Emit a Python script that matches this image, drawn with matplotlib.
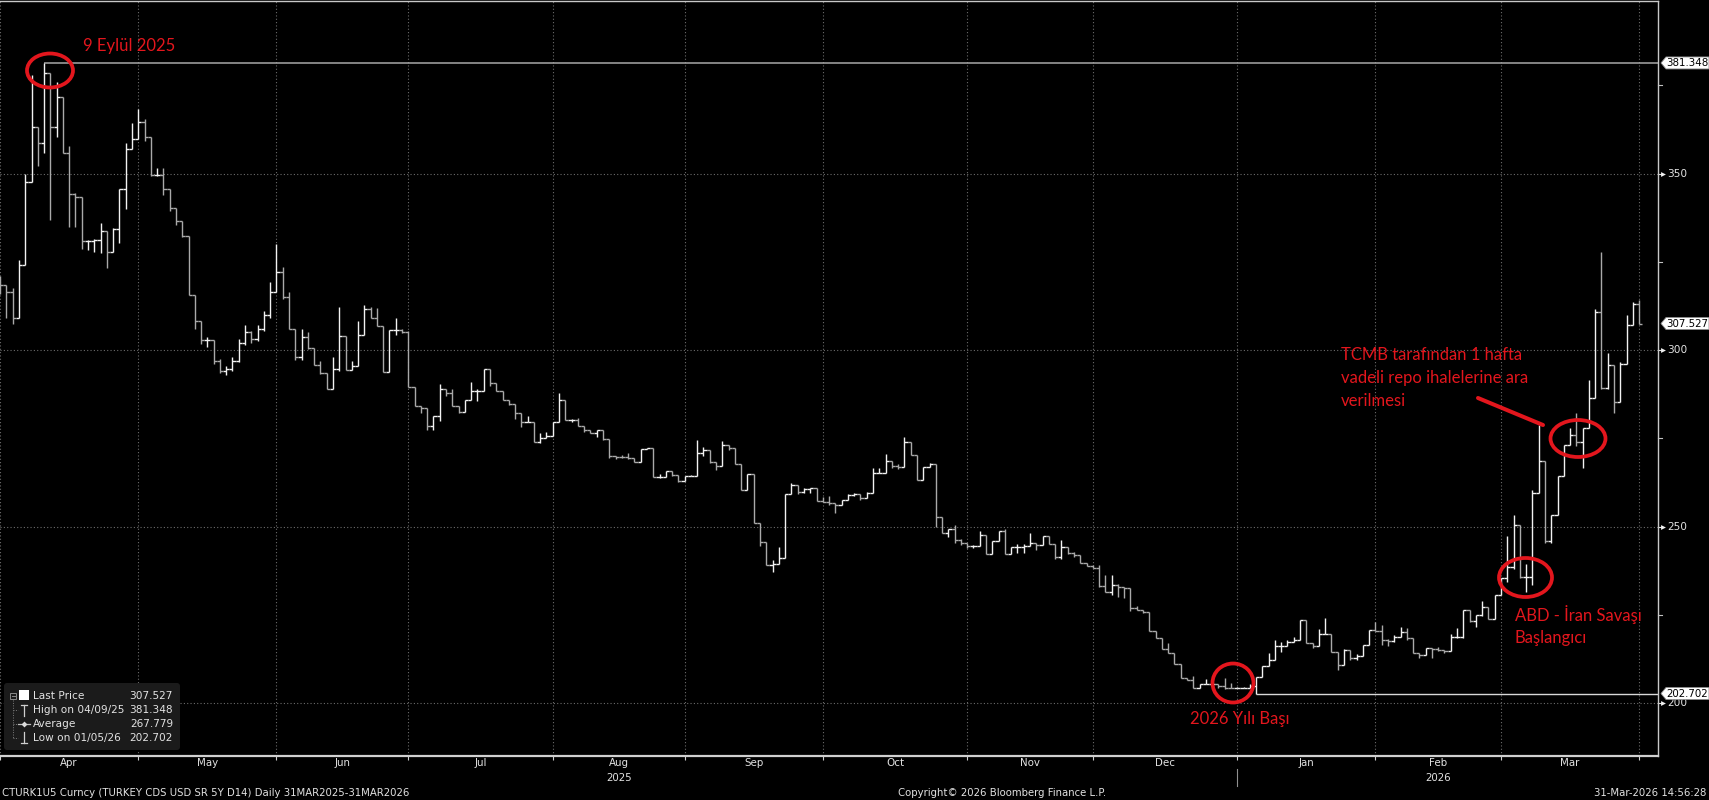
import numpy as np
import pandas as pd
import matplotlib
matplotlib.use('Agg')
import matplotlib.pyplot as plt
from matplotlib.patches import Ellipse, Polygon, FancyBboxPatch, Rectangle
from matplotlib.lines import Line2D
from matplotlib.transforms import Affine2D, blended_transform_factory

# ---------------- data ----------------
dates = pd.bdate_range('2025-03-31', '2026-03-31')

close = [
    318.4, 316.5, 309.0, 324.1, 347.5, 363.1, 358.8, 378.6, 363.1, 371.8,
    355.7, 344.1, 343.4, 330.9, 330.9, 331.2, 333.7, 327.9, 334.2, 345.5,
    357.1, 359.7, 364.7, 360.4, 349.6, 349.6, 345.6, 340.3, 336.5, 332.4,
    315.6, 308.2, 302.8, 302.8, 297.0, 294.0, 294.5, 297.0, 302.0, 305.0,
    303.0, 306.0, 310.0, 316.5, 322.2, 315.1, 305.9, 297.9, 303.8, 300.5,
    295.8, 293.6, 288.9, 294.5, 304.0, 294.3, 295.5, 304.2, 311.5, 309.0,
    306.9, 293.9, 305.7, 305.7, 305.2, 289.6, 284.2, 283.5, 278.5, 281.3,
    288.9, 287.9, 284.1, 282.5, 285.8, 288.4, 288.4, 294.6, 290.7, 288.4,
    285.8, 284.6, 282.1, 279.5, 279.7, 274.0, 275.2, 275.6, 279.7, 285.8,
    280.2, 280.2, 278.5, 277.5, 276.6, 277.3, 274.7, 270.1, 269.8, 269.6,
    269.3, 268.4, 271.9, 272.4, 264.1, 264.1, 265.8, 264.6, 262.9, 264.4,
    264.4, 270.9, 271.7, 268.4, 267.1, 273.1, 272.3, 267.6, 260.3, 264.8,
    250.9, 245.7, 239.1, 239.4, 241.0, 259.1, 261.8, 259.9, 260.6, 260.8,
    257.2, 257.0, 256.6, 256.1, 257.5, 258.9, 259.2, 258.0, 259.6, 265.3,
    265.3, 268.6, 267.1, 266.8, 274.0, 270.3, 263.2, 267.0, 267.6, 252.6,
    248.1, 249.2, 246.2, 245.4, 244.5, 244.5, 247.6, 242.1, 246.0, 248.8,
    242.1, 244.1, 244.1, 244.5, 245.4, 244.8, 247.3, 245.2, 241.5, 244.1,
    242.6, 241.9, 239.6, 238.8, 238.4, 233.1, 231.5, 233.4, 233.0, 232.5,
    226.8, 226.5, 225.9, 220.5, 218.3, 215.2, 214.3, 211.0, 207.0, 206.5,
    204.4, 205.4, 205.4, 205.4, 204.8, 204.3, 204.2, 204.2, 204.2, 204.8,
    207.3, 210.5, 212.2, 216.1, 216.1, 217.4, 217.8, 223.5, 217.1, 216.1,
    219.5, 219.5, 214.5, 210.7, 215.0, 212.8, 213.3, 216.4, 220.7, 220.5,
    217.8, 217.6, 218.8, 220.2, 218.3, 214.1, 213.6, 215.5, 215.2, 215.0,
    214.8, 218.6, 218.6, 226.3, 223.3, 224.9, 227.1, 223.7, 230.6, 235.3,
    238.6, 250.4, 235.8, 235.8, 259.4, 268.6, 245.9, 253.4, 264.3, 273.2,
    276.0, 274.0, 277.8, 286.3, 310.9, 289.4, 295.7, 285.3, 296.1, 307.2,
    313.1, 307.527]

high = [
    321.0, 318.4, 317.5, 325.5, 350.0, 378.0, 363.1, 381.348, 378.6, 376.0,
    371.8, 357.8, 344.4, 343.4, 331.2, 331.5, 335.9, 333.7, 334.7, 345.5,
    358.7, 364.2, 368.2, 365.6, 360.4, 351.5, 351.5, 345.6, 340.3, 336.5,
    332.4, 315.6, 308.2, 303.8, 302.8, 297.5, 295.5, 298.0, 303.0, 307.0,
    305.5, 307.0, 311.0, 319.4, 330.0, 323.6, 316.5, 305.9, 306.1, 305.0,
    300.5, 297.0, 293.6, 298.1, 312.3, 304.0, 297.0, 308.3, 312.7, 312.2,
    312.0, 306.9, 305.7, 309.0, 305.9, 305.4, 289.6, 284.2, 283.5, 281.3,
    290.3, 288.9, 288.9, 284.1, 285.8, 291.0, 289.1, 294.6, 294.6, 290.7,
    288.4, 285.8, 284.6, 282.1, 281.3, 279.7, 276.6, 276.9, 279.7, 287.9,
    285.8, 280.6, 280.8, 278.5, 277.5, 277.5, 277.3, 274.7, 270.1, 270.4,
    270.8, 269.3, 271.9, 272.4, 272.4, 264.8, 265.8, 265.8, 264.6, 264.4,
    264.6, 274.5, 272.5, 271.7, 268.4, 274.3, 273.1, 272.3, 267.6, 264.8,
    264.8, 250.9, 245.7, 240.6, 244.2, 259.1, 262.4, 261.8, 260.9, 261.0,
    260.8, 258.5, 258.7, 256.6, 257.5, 259.2, 259.6, 259.2, 259.9, 266.5,
    266.5, 270.7, 268.6, 267.7, 275.3, 274.0, 270.3, 267.0, 268.0, 267.6,
    252.6, 249.3, 250.4, 246.6, 245.4, 244.8, 248.8, 247.6, 246.0, 248.8,
    249.2, 244.1, 245.0, 245.0, 248.3, 245.4, 247.3, 247.3, 245.2, 246.2,
    244.1, 242.9, 241.9, 239.6, 239.0, 239.1, 236.3, 236.3, 233.6, 233.0,
    232.5, 227.4, 226.5, 225.9, 220.5, 218.3, 216.9, 214.3, 211.0, 207.0,
    207.6, 205.4, 206.7, 205.9, 205.4, 207.0, 205.6, 204.6, 204.6, 205.4,
    207.3, 210.5, 214.3, 217.8, 217.4, 217.8, 218.6, 223.5, 223.5, 217.1,
    221.1, 224.0, 219.5, 214.5, 215.2, 215.0, 213.8, 216.4, 220.7, 223.0,
    222.0, 218.2, 219.2, 221.6, 221.3, 218.3, 214.1, 215.5, 215.5, 215.9,
    215.0, 219.7, 221.2, 226.3, 226.3, 224.9, 229.0, 227.1, 230.6, 235.3,
    247.3, 253.3, 250.4, 239.5, 260.3, 278.8, 264.1, 253.4, 264.3, 273.2,
    277.8, 282.1, 277.8, 291.5, 311.5, 327.9, 299.1, 295.7, 296.6, 309.9,
    313.7, 314.2]

low = [
    316.0, 309.0, 307.5, 309.0, 324.1, 347.5, 352.1, 355.7, 336.8, 360.4,
    355.7, 334.9, 334.9, 328.5, 328.3, 327.9, 327.6, 323.3, 327.9, 330.2,
    340.1, 357.1, 359.7, 359.2, 349.2, 349.2, 343.8, 339.5, 335.4, 332.0,
    315.6, 306.1, 301.8, 300.8, 296.0, 293.5, 293.0, 294.0, 296.5, 301.5,
    302.0, 302.5, 305.5, 309.0, 316.5, 314.6, 305.9, 297.3, 297.3, 300.2,
    295.8, 293.2, 288.9, 288.9, 294.0, 294.3, 294.3, 295.5, 304.2, 309.0,
    306.9, 293.9, 294.0, 304.2, 304.9, 289.6, 284.2, 282.1, 277.3, 277.3,
    279.8, 286.9, 284.1, 282.1, 282.5, 285.8, 285.6, 288.4, 289.7, 288.4,
    285.8, 284.4, 280.6, 278.3, 279.5, 274.0, 273.6, 275.2, 275.6, 279.7,
    280.2, 279.7, 278.5, 276.9, 276.4, 275.4, 274.4, 269.4, 269.1, 269.4,
    269.1, 268.4, 268.4, 271.9, 264.1, 263.8, 264.1, 264.4, 262.7, 262.9,
    264.2, 264.4, 269.9, 268.0, 266.1, 267.1, 271.7, 267.6, 260.3, 260.3,
    250.9, 244.4, 239.1, 237.2, 239.4, 241.0, 259.1, 259.1, 259.5, 259.5,
    257.2, 256.9, 256.2, 253.9, 256.1, 257.5, 258.7, 257.6, 258.0, 259.6,
    265.1, 265.3, 266.6, 266.3, 266.8, 270.3, 263.2, 263.2, 267.0, 250.0,
    248.1, 247.1, 245.4, 244.8, 243.8, 244.0, 244.5, 242.1, 242.1, 246.0,
    242.1, 242.1, 242.4, 242.5, 244.5, 243.5, 244.8, 245.2, 240.8, 240.7,
    242.1, 241.4, 239.6, 238.7, 238.2, 232.9, 231.5, 230.6, 230.0, 229.7,
    226.0, 226.3, 225.4, 220.5, 218.3, 215.2, 214.3, 211.0, 207.0, 206.5,
    204.4, 204.4, 205.4, 205.1, 204.4, 204.1, 204.2, 204.2, 204.2, 204.2,
    202.702, 207.3, 210.5, 212.2, 214.5, 216.1, 217.4, 217.8, 217.1, 215.7,
    216.1, 219.5, 214.5, 209.3, 210.7, 212.2, 212.2, 213.3, 216.4, 220.3,
    216.4, 216.1, 217.4, 218.8, 217.8, 214.1, 212.7, 213.6, 212.7, 214.8,
    214.3, 214.8, 218.3, 218.3, 223.0, 221.6, 224.7, 223.7, 223.7, 230.6,
    234.4, 238.1, 235.3, 231.5, 233.4, 259.4, 245.4, 245.4, 253.4, 264.3,
    273.2, 272.8, 266.5, 277.8, 286.3, 288.9, 288.9, 282.1, 285.3, 296.1,
    307.2, 307.3]

first_open = 320.0
# each bar opens where the previous one closed (the ticks meet in the picture)
open_ = [first_open] + close[:-1]

y_major = [200, 250, 300, 350]
y_minor = [225, 275, 325, 375]
last_price, high_val, avg_val, low_val = 307.527, 381.348, 267.779, 202.702
high_idx, low_idx = 7, 200

legend_rows = [("Last Price", "307.527"), ("High on 04/09/25", "381.348"),
               ("Average", "267.779"), ("Low on 01/05/26", "202.702")]

footer_left = "CTURK1U5 Curncy (TURKEY CDS USD SR 5Y D14) Daily 31MAR2025-31MAR2026"
footer_mid = "Copyright\u00a9 2026 Bloomberg Finance L.P."
footer_right = "31-Mar-2026 14:56:28"

# ---------------- figure ----------------
W, H = 1709, 800
fig = plt.figure(figsize=(W / 100, H / 100), dpi=100, facecolor='black')
pix = Affine2D().scale(1.0 / W, -1.0 / H).translate(0, 1) + fig.transFigure

AX_L, AX_R, AX_T, AX_B = 0, 1658, 1, 756
ax = fig.add_axes([AX_L / W, 1 - AX_B / H, (AX_R - AX_L) / W, (AX_B - AX_T) / H])
ax.set_facecolor('black')
n = len(close)
x = np.arange(n)
ax.set_xlim(-0.02, 264.0)
ax.set_ylim(185.0, 398.9)

BBG = ['DejaVu Sans']
TXT = '#e2e2e2'
GRID = '#6c6c6c'

# month boundaries (last trading day of each month)
bounds = [i for i in range(n) if i == n - 1 or dates[i].month != dates[i + 1].month]
for b in bounds:
    ax.axvline(b, color=GRID, lw=0.8, ls=(0, (1, 2)), zorder=1)
for v in y_major:
    ax.axhline(v, color=GRID, lw=0.8, ls=(0, (1, 2)), zorder=1)

# OHLC bars
o = np.array(open_); c = np.array(close); h = np.array(high); l = np.array(low)
hi = np.maximum(h, np.maximum(o, c)); lo = np.minimum(l, np.minimum(o, c))
cols = np.where(c >= o, '#f2f2f2', '#a9a9a9')
ax.vlines(x, lo, hi, colors=cols, lw=1.0, zorder=3)
ax.hlines(o, x - 0.5, x, colors=cols, lw=1.0, zorder=3)
ax.hlines(c, x, x + 0.5, colors=cols, lw=1.0, zorder=3)

# high / low reference lines
ax.hlines(high_val, high_idx, 264, color='#a8a8a8', lw=1.1, zorder=2)
ax.hlines(low_val, low_idx, 264, color='#d8d8d8', lw=1.0, zorder=2)

# spines
ax.spines['left'].set_visible(False)
for s in ['top', 'right']:
    ax.spines[s].set_color('#c8c8c8'); ax.spines[s].set_linewidth(1.0)
ax.spines['bottom'].set_color('#d0d0d0'); ax.spines['bottom'].set_linewidth(1.6)
ax.set_xticks(bounds)
ax.set_xticklabels([])
ax.tick_params(axis='x', colors='#d0d0d0', length=3, width=0.8, direction='out')
ax.set_yticks([])

# month and year labels
xpix = blended_transform_factory(ax.transData, pix)
for k in range(len(bounds) - 1):
    mid = (bounds[k] + bounds[k + 1]) / 2
    ax.text(mid, 763, dates[bounds[k] + 1].strftime('%b'), transform=xpix,
            ha='center', va='center', color=TXT, fontsize=7.4, family=BBG)
year_end = [b for b in bounds if dates[b].month == 12][0]
for yr, a, b in [("2025", 0, year_end), ("2026", year_end, bounds[-1])]:
    ax.text((a + b) / 2, 778, yr, transform=xpix,
            ha='center', va='center', color=TXT, fontsize=7.4, family=BBG)
ax.plot([year_end, year_end], [769, 786], color='#909090', lw=0.8,
        transform=xpix, clip_on=False)

# right axis labels
ytr = blended_transform_factory(pix, ax.transData)
for v in y_major:
    ax.plot([1658, 1662], [v, v], color='#e0e0e0', lw=0.8, transform=ytr, clip_on=False)
    ax.plot([1663], [v], marker='>', ms=3.5, color='#f0f0f0', mec='none', transform=ytr, clip_on=False)
    ax.text(1667, v, str(v), transform=ytr, ha='left', va='center', color=TXT,
            fontsize=7.6, family=BBG)
for v in y_minor:
    ax.plot([1658, 1662], [v, v], color='#c0c0c0', lw=0.8, transform=ytr, clip_on=False)

def tag(v, s):
    hh = 6 / 3.533
    poly = Polygon([(1661, v), (1666, v + hh), (1709, v + hh), (1709, v - hh), (1666, v - hh)],
                   closed=True, facecolor='white', edgecolor='#909090', lw=0.6,
                   transform=ytr, clip_on=False, zorder=10)
    ax.add_patch(poly)
    ax.text(1687, v, s, transform=ytr, ha='center', va='center', color='black',
            fontsize=7.4, family=BBG, zorder=11)

tag(high_val, '381.348')
tag(last_price, '307.527')
tag(low_val, '202.702')

# ---------------- annotations (red) ----------------
RED = '#e3161d'
ANN = ['Lato', 'DejaVu Sans']
def ell(cx, cy, w, hgt):
    fig.add_artist(Ellipse((cx, cy), w, hgt, transform=pix, fill=False, edgecolor=RED, lw=2.7))

ell(50, 70.5, 46, 34)
fig.text(83, 46, "9 Eylül 2025", transform=pix, color=RED, fontsize=12, family=ANN,
         ha='left', va='center')

ell(1233, 683, 41, 39)
fig.text(1240, 719, "2026 Yılı Başı", transform=pix, color=RED, fontsize=12, family=ANN,
         ha='center', va='center')

ell(1525.5, 577.5, 53, 39)
fig.text(1515, 614, "ABD - İran Savaşı", transform=pix, color=RED, fontsize=12, family=ANN,
         ha='left', va='center')
fig.text(1515, 638, "Başlangıcı", transform=pix, color=RED, fontsize=12, family=ANN,
         ha='left', va='center')

ell(1578, 438.5, 55, 37)
fig.add_artist(Line2D([1478, 1543], [398, 425], transform=pix, color=RED, lw=2.9,
                      solid_capstyle='round'))
for yy, s in [(355, "TCMB tarafından 1 hafta"), (378, "vadeli repo ihalelerine ara"),
              (401, "verilmesi")]:
    fig.text(1341, yy, s, transform=pix, color=RED, fontsize=12, family=ANN,
             ha='left', va='center')

# ---------------- legend box ----------------
fig.add_artist(FancyBboxPatch((4, 683), 176, 67, boxstyle='round,pad=0,rounding_size=3',
                              transform=pix, facecolor='#1b1b1b', edgecolor='none', zorder=5))
row_y = [696, 710, 724, 738]
for (lab, val), yy in zip(legend_rows, row_y):
    fig.text(33, yy, lab, transform=pix, color=TXT, fontsize=7.6, family=BBG,
             ha='left', va='center', zorder=6)
    fig.text(173, yy, val, transform=pix, color=TXT, fontsize=7.6, family=BBG,
             ha='right', va='center', zorder=6)
# tree glyphs
fig.add_artist(Rectangle((10, 693), 6, 6, transform=pix, fill=False, edgecolor='#8a8a8a', lw=0.7, zorder=6))
fig.add_artist(Line2D([11.5, 14.5], [696, 696], transform=pix, color='#8a8a8a', lw=0.7, zorder=6))
fig.add_artist(Rectangle((19, 690), 10, 10, transform=pix, facecolor='white', edgecolor='none', zorder=6))
fig.add_artist(Line2D([13, 13], [700, 738], transform=pix, color='#7a7a7a', lw=0.7, ls=(0, (1, 1.5)), zorder=6))
for yy in row_y[1:]:
    fig.add_artist(Line2D([13, 18], [yy, yy], transform=pix, color='#7a7a7a', lw=0.7, ls=(0, (1, 1.5)), zorder=6))
fig.add_artist(Line2D([24, 24], [705, 716], transform=pix, color='#cfcfcf', lw=0.9, zorder=6))
fig.add_artist(Line2D([21, 27], [705, 705], transform=pix, color='#cfcfcf', lw=0.9, zorder=6))
fig.add_artist(Line2D([18, 30], [724, 724], transform=pix, color='#bfbfbf', lw=0.9, zorder=6))
fig.add_artist(Line2D([24], [724], transform=pix, color='#dcdcdc', marker='D', ms=3, mec='none', zorder=7))
fig.add_artist(Line2D([24, 24], [732, 743], transform=pix, color='#cfcfcf', lw=0.9, zorder=6))
fig.add_artist(Line2D([21, 27], [743, 743], transform=pix, color='#cfcfcf', lw=0.9, zorder=6))

# ---------------- footer ----------------
fig.text(2, 793, footer_left, transform=pix, color=TXT, fontsize=7.3, family=BBG, ha='left', va='center')
fig.text(1002, 793, footer_mid, transform=pix, color=TXT, fontsize=7.3, family=BBG, ha='center', va='center')
fig.text(1706, 793, footer_right, transform=pix, color=TXT, fontsize=7.3, family=BBG, ha='right', va='center')

fig.savefig('out.png', dpi=100, facecolor='black')
